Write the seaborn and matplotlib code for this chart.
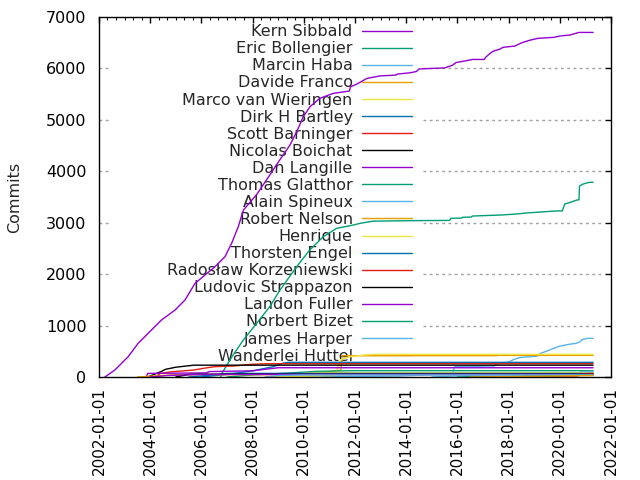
import pandas as pd
import matplotlib
matplotlib.use("Agg")
import matplotlib.pyplot as plt
import matplotlib.dates as mdates
import seaborn as sns

# cumulative commits per author, (decimal year, commits)
kern = [(2002.23, 0), (2002.62, 136), (2003.14, 395), (2003.53, 655), (2003.92, 850), (2004.44, 1108),
        (2004.97, 1302), (2005.36, 1497), (2005.75, 1821), (2006.14, 1983), (2006.53, 2144), (2006.92, 2339),
        (2007.18, 2599), (2007.44, 2922), (2007.64, 3246), (2008.16, 3550), (2008.5, 3800), (2008.8, 4024),
        (2009.1, 4250), (2009.46, 4510), (2009.75, 4800), (2009.98, 5060), (2010.24, 5255), (2010.63, 5420),
        (2011.15, 5515), (2011.78, 5560), (2011.82, 5640), (2012.07, 5695), (2012.46, 5805), (2012.98, 5855),
        (2013.6, 5870), (2013.65, 5890), (2014.15, 5915), (2014.4, 5940), (2014.5, 5990), (2015.5, 6010),
        (2015.8, 6060), (2015.95, 6115), (2016.3, 6145), (2016.6, 6175), (2017.05, 6175), (2017.1, 6215),
        (2017.27, 6290), (2017.4, 6335), (2017.66, 6375), (2017.78, 6410), (2018.25, 6435), (2018.45, 6485),
        (2018.64, 6520), (2018.84, 6550), (2019.15, 6585), (2019.78, 6605), (2020.0, 6630), (2020.4, 6650),
        (2020.75, 6700), (2021.3, 6700)]
eric = [(2006.75, 0), (2006.8, 70), (2007.2, 400), (2007.64, 720), (2008.16, 1044), (2008.67, 1367),
        (2009.07, 1691), (2009.72, 2144), (2010.23, 2469), (2010.76, 2728), (2011.28, 2890), (2011.93, 2955),
        (2012.2, 2988), (2012.7, 3030), (2014.2, 3040), (2015.7, 3045), (2015.75, 3085), (2016.15, 3090),
        (2016.2, 3105), (2016.55, 3110), (2016.58, 3130), (2017.7, 3150), (2018.33, 3170), (2018.7, 3190),
        (2019.03, 3200), (2019.78, 3227), (2020.1, 3230), (2020.13, 3280), (2020.2, 3365), (2020.4, 3395),
        (2020.66, 3440), (2020.75, 3445), (2020.77, 3713), (2020.9, 3750), (2021.14, 3785), (2021.3, 3785)]
marcin = [(2009.5, 0), (2013.8, 20), (2015.8, 60), (2015.85, 140), (2015.9, 200), (2017.45, 215),
          (2017.5, 250), (2018.0, 290), (2018.2, 340), (2018.45, 380), (2019.1, 405), (2019.25, 460),
          (2019.5, 505), (2019.75, 555), (2020.0, 600), (2020.35, 635), (2020.65, 655), (2020.8, 690),
          (2020.9, 735), (2021.1, 752), (2021.3, 752)]
davide = [(2008.5, 0), (2011.45, 130), (2011.5, 415), (2017.55, 415), (2017.6, 421), (2021.3, 421)]
marco = [(2009.0, 0), (2011.2, 30), (2011.45, 340), (2011.8, 395), (2012.4, 428), (2012.8, 441), (2021.3, 441)]
dirk = [(2006.0, 0), (2007.0, 50), (2008.0, 120), (2008.8, 200), (2009.2, 270), (2009.4, 285), (2021.3, 285)]
scott = [(2004.2, 0), (2004.4, 70), (2004.8, 100), (2005.7, 135), (2006.1, 170), (2006.5, 200),
         (2007.3, 215), (2007.9, 245), (2008.6, 259), (2021.3, 259)]
nicolas = [(2003.9, 0), (2004.1, 40), (2004.4, 100), (2004.6, 150), (2005.0, 190), (2005.7, 230), (2021.3, 230)]
dan = [(2003.85, 0), (2003.9, 70), (2006.2, 80), (2006.3, 105), (2008.0, 120), (2009.0, 180), (2021.3, 180)]
thomas = [(2007.0, 0), (2008.0, 40), (2009.5, 80), (2010.5, 110), (2012.0, 123), (2021.3, 123)]
alain = [(2015.0, 0), (2015.9, 20), (2017.0, 40), (2018.0, 60), (2020.75, 64), (2020.8, 105), (2021.3, 110)]
robert = [(2003.5, 0), (2005.0, 45), (2021.3, 45)]
henrique = [(2008.5, 0), (2009.5, 50), (2010.5, 85), (2021.3, 85)]
thorsten = [(2005.5, 0), (2006.5, 40), (2007.0, 70), (2021.3, 70)]
radoslaw = [(2018.5, 0), (2018.55, 15), (2020.7, 20), (2020.8, 60), (2021.3, 70)]
ludovic = [(2005.0, 0), (2005.5, 50), (2006.0, 55), (2021.3, 55)]
landon = [(2004.0, 0), (2004.7, 30), (2006.0, 50), (2021.3, 50)]
norbert = [(2016.0, 0), (2019.0, 20), (2020.7, 35), (2021.3, 40)]
james = [(2008.5, 0), (2009.0, 30), (2010.0, 40), (2021.3, 40)]
wanderlei = [(2016.5, 0), (2018.5, 10), (2020.7, 25), (2021.3, 30)]

authors = ["Kern Sibbald", "Eric Bollengier", "Marcin Haba", "Davide Franco", "Marco van Wieringen",
           "Dirk H Bartley", "Scott Barninger", "Nicolas Boichat", "Dan Langille", "Thomas Glatthor",
           "Alain Spineux", "Robert Nelson", "Henrique", "Thorsten Engel", "Radosław Korzeniewski",
           "Ludovic Strappazon", "Landon Fuller", "Norbert Bizet", "James Harper", "Wanderlei Huttel"]
series = [kern, eric, marcin, davide, marco, dirk, scott, nicolas, dan, thomas,
          alain, robert, henrique, thorsten, radoslaw, ludovic, landon, norbert, james, wanderlei]

gp_colors = ["#9400d3", "#009e73", "#56b4e9", "#e69f00", "#f0e442", "#0072b2", "#e51e10", "#000000"]
palette = [gp_colors[i % 8] for i in range(len(authors))]

rows = []
for name, pts in zip(authors, series):
    for yr, c in pts:
        rows.append((name, yr, c))
df = pd.DataFrame(rows, columns=["author", "year", "commits"])
base = pd.Timestamp("2002-01-01")
df["date"] = base + pd.to_timedelta((df["year"] - 2002) * 365.25, unit="D")


def yr2date(y):
    return base + pd.to_timedelta((y - 2002) * 365.25, unit="D")


sns.set_style("white")
plt.rcParams["font.family"] = ["DejaVu Sans"]
plt.rcParams["font.size"] = 11

fig = plt.figure(figsize=(6.4, 4.8), dpi=100)
ax = fig.add_axes([99 / 640, 1 - 377 / 480, 512 / 640, 360 / 480])

# grid, mostly hidden behind the key
ygrid = [1000, 2000, 3000, 4000, 5000, 6000]
grid_style = dict(colors="#a0a0a0", linestyles=(0, (2, 2.5)), linewidth=1, zorder=0)
ax.hlines(ygrid, yr2date(2002.0), yr2date(2002.4), **grid_style)
ax.hlines(ygrid, yr2date(2014.66), yr2date(2021.6), **grid_style)

sns.lineplot(data=df, x="date", y="commits", hue="author", hue_order=authors, palette=palette,
             estimator=None, linewidth=1.0, legend=False, ax=ax)

ax.set_xlim(pd.Timestamp("2002-01-01"), pd.Timestamp("2022-01-01"))
ax.set_ylim(0, 7000)
ax.set_yticks(range(0, 7001, 1000))
ax.xaxis.set_major_locator(mdates.YearLocator(2))
ax.xaxis.set_minor_locator(mdates.MonthLocator(bymonth=[1, 5, 9]))
ax.xaxis.set_major_formatter(mdates.DateFormatter("%Y-%m-%d"))
for lab in ax.get_xticklabels():
    lab.set_rotation(90)
ax.tick_params(axis="both", which="both", direction="in", top=True, right=True, colors="black")
ax.tick_params(axis="both", which="major", length=4, width=1)
ax.tick_params(axis="x", which="minor", length=2.5, width=0.8)
ax.tick_params(axis="y", pad=9, labelsize=11.5)
ax.tick_params(axis="x", pad=7, labelsize=11)
for sp in ax.spines.values():
    sp.set_color("black")
    sp.set_linewidth(1)
ax.set_xlabel("")
ax.set_ylabel("Commits", fontsize=11.5, labelpad=17)

leg = ax.legend(ax.get_lines()[:len(authors)], authors, loc="upper right",
                bbox_to_anchor=(0.611, 0.98), markerfirst=False, frameon=False,
                handlelength=3.1, handletextpad=0.6, labelspacing=0.13, borderpad=0,
                borderaxespad=0, fontsize=11.5)
leg.set_zorder(1)

fig.savefig("out.png", dpi=100)
